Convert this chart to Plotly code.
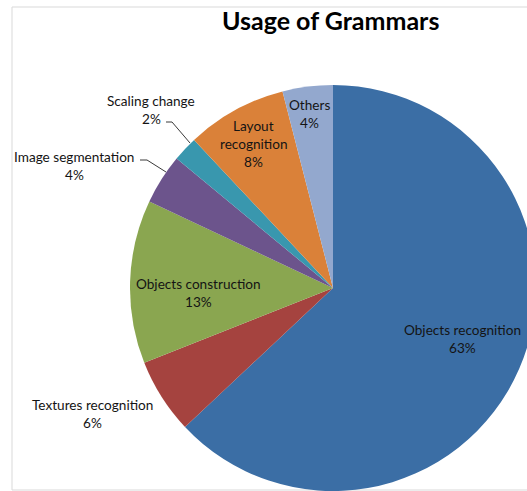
import plotly.graph_objects as go

# Share of grammar usage by application area
categories = ["Objects recognition", "Textures recognition", "Objects construction",
              "Image segmentation", "Scaling change", "Layout recognition", "Others"]
shares = [63, 6, 13, 4, 2, 8, 4]
colors = ["#3B6EA5", "#A5433F", "#8AA650", "#6C548C", "#3997AE", "#DA8139", "#93A8CE"]
# how each category name is wrapped on the chart
name_lines = [["Objects recognition"], ["Textures recognition"], ["Objects construction"],
              ["Image segmentation"], ["Scaling change"], ["Layout", "recognition"], ["Others"]]

W, H = 545, 491          # the canvas is a bit wider than the view; the pie runs off the right edge
CX, CY, R = 333, 288, 203

def fx(px):
    return px / W

def fy(py):
    return 1 - py / H

fig = go.Figure(go.Pie(
    labels=categories,
    values=shares,
    sort=False,
    direction="clockwise",
    rotation=0,
    marker=dict(colors=colors, line=dict(width=0)),
    textinfo="none",
    hoverinfo="label+percent",
    domain=dict(x=[fx(CX - R), fx(CX + R)], y=[fy(CY + R), fy(CY - R)]),
    showlegend=False,
))

# label anchor (centre x, y of first line) for each category, in pixels
label_pos = {
    "Objects recognition": (462, 330),
    "Textures recognition": (92, 405),
    "Objects construction": (198, 284),
    "Image segmentation": (74, 157),
    "Scaling change": (151, 101),
    "Layout recognition": (253, 126),
    "Others": (309, 105),
}
LINE = 17.8
annotations = []
for cat, share, lines in zip(categories, shares, name_lines):
    x0, y0 = label_pos[cat]
    for i, t in enumerate(lines + [f"{share}%"]):
        annotations.append(dict(
            x=fx(x0), y=fy(y0 + i * LINE), xref="paper", yref="paper",
            text=t, showarrow=False, xanchor="center", yanchor="middle",
            font=dict(family="Lato", size=13.6, color="#141414"),
        ))

annotations.append(dict(
    x=fx(330), y=fy(20), xref="paper", yref="paper", text="<b>Usage of Grammars</b>",
    showarrow=False, xanchor="center", yanchor="middle",
    font=dict(family="Lato", size=25, color="#000000"),
))

shapes = [
    # chart-area frame
    dict(type="rect", xref="paper", yref="paper", layer="below",
         x0=fx(12), x1=fx(W + 5), y0=fy(490), y1=fy(7),
         line=dict(color="#D9D9D9", width=1), fillcolor="rgba(0,0,0,0)"),
    # leader lines for the small slices
    dict(type="path", xref="paper", yref="paper",
         path=f"M {fx(166)} {fy(122)} L {fx(172)} {fy(122)} L {fx(190)} {fy(143)}",
         line=dict(color="#3a3a3a", width=1)),
    dict(type="path", xref="paper", yref="paper",
         path=f"M {fx(140)} {fy(160)} L {fx(147)} {fy(160)} L {fx(166)} {fy(172)}",
         line=dict(color="#3a3a3a", width=1)),
]

fig.update_layout(
    width=W, height=H,
    margin=dict(l=0, r=0, t=0, b=0),
    paper_bgcolor="white",
    annotations=annotations,
    shapes=shapes,
)

fig.write_html(
    "out.html",
    post_script="document.body.style.margin='0';document.body.style.overflow='hidden';"
                "document.documentElement.style.overflow='hidden';",
)
